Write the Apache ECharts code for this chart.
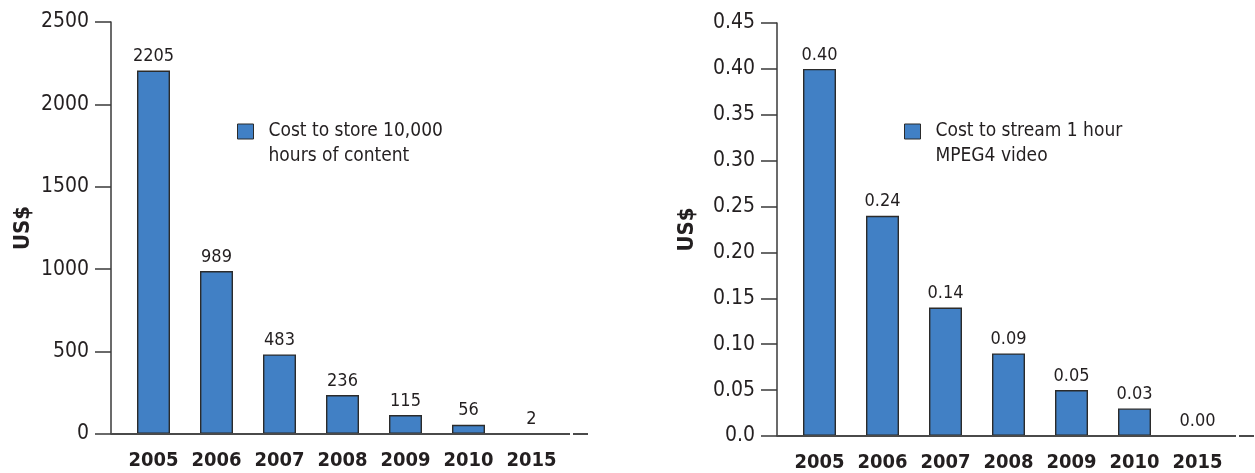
<!DOCTYPE html>
<html>
<head>
<meta charset="utf-8">
<script src="https://cdn.jsdelivr.net/npm/echarts@6/dist/echarts.min.js"></script>
<style>
  html, body { margin: 0; padding: 0; background: #ffffff; }
  #chart { width: 1255px; height: 473px; }
</style>
</head>
<body>
<div id="chart"></div>
<script>
// Year categories shared by both panels
const years = ['2005', '2006', '2007', '2008', '2009', '2010', '2015'];

// Left panel: cost to store 10,000 hours of content (US$)
const storageCost = [2205, 989, 483, 236, 115, 56, 2];
const storageTicks = ['0', '500', '1000', '1500', '2000', '2500'];
const storageName = 'Cost to store 10,000\nhours of content';

// Right panel: cost to stream 1 hour of MPEG4 video (US$)
const streamCost = [0.40, 0.24, 0.14, 0.09, 0.05, 0.03, 0.00];
const streamTicks = ['0.0', '0.05', '0.10', '0.15', '0.20', '0.25', '0.30', '0.35', '0.40', '0.45'];
const streamName = 'Cost to stream 1 hour\nMPEG4 video';

const FONT = "'DejaVu Sans Condensed', 'Liberation Sans Narrow', sans-serif";
const INK = '#231f20';
const AXIS = '#3a3a3a';
const BAR = '#4180c5';

const panels = [
  { left: 122, top: 22, width: 441, height: 412, yOffset: 11, nameGap: 77 },
  { left: 788, top: 23, width: 441, height: 413, yOffset: 11, nameGap: 79 }
];
const TICK_LEN = 16;

const chart = echarts.init(document.getElementById('chart'), null, { renderer: 'canvas' });

function yAxisFor(i, max, interval, ticks) {
  return {
    type: 'value',
    gridIndex: i,
    min: 0,
    max: max,
    interval: interval,
    offset: panels[i].yOffset,
    name: 'US$',
    nameLocation: 'middle',
    nameGap: panels[i].nameGap,
    nameRotate: 90,
    nameTextStyle: { fontFamily: FONT, fontWeight: 'bold', fontSize: 22, color: INK },
    axisLine: { show: true, lineStyle: { color: AXIS, width: 1.5 } },
    axisTick: { show: true, inside: false, length: TICK_LEN, lineStyle: { color: AXIS, width: 1.5 } },
    axisLabel: {
      margin: 22,
      fontFamily: FONT,
      fontSize: 21,
      color: INK,
      formatter: (v, idx) => ticks[idx]
    },
    splitLine: { show: false }
  };
}

function xAxisFor(i) {
  return {
    type: 'category',
    gridIndex: i,
    data: years,
    boundaryGap: true,
    axisLine: { show: false },
    axisTick: { show: false },
    axisLabel: {
      margin: 17,
      fontFamily: FONT,
      fontWeight: 'bold',
      fontSize: 20,
      color: INK,
      interval: 0
    }
  };
}

function barSeries(i, name, data, fmt) {
  return {
    type: 'bar',
    name: name,
    xAxisIndex: i,
    yAxisIndex: i,
    data: data,
    barWidth: 33,
    itemStyle: { color: BAR, borderColor: '#2b2b2b', borderWidth: 1.4 },
    label: {
      show: true,
      position: 'top',
      distance: 5,
      fontFamily: FONT,
      fontSize: 18,
      color: INK,
      formatter: p => fmt(p.value)
    },
    emphasis: { disabled: true }
  };
}

// The blank leading line keeps the first text line level with the swatch
function legendFor(name, left) {
  return {
    data: [name],
    left: left,
    top: 94,
    padding: 0,
    orient: 'vertical',
    icon: 'rect',
    itemWidth: 16,
    itemHeight: 15,
    selectedMode: false,
    itemStyle: { color: BAR, borderColor: '#2b2b2b', borderWidth: 1 },
    formatter: n => ' \n' + n,
    textStyle: {
      fontFamily: FONT,
      fontSize: 19,
      color: INK,
      lineHeight: 25,
      padding: [0, 0, 0, 10]
    }
  };
}

chart.setOption({
  animation: false,
  backgroundColor: '#ffffff',
  grid: panels.map(p => ({ left: p.left, top: p.top, width: p.width, height: p.height, containLabel: false })),
  xAxis: [xAxisFor(0), xAxisFor(1)],
  yAxis: [
    yAxisFor(0, 2500, 500, storageTicks),
    yAxisFor(1, 0.45, 0.05, streamTicks)
  ],
  legend: [legendFor(storageName, 237), legendFor(streamName, 904)],
  series: [
    barSeries(0, storageName, storageCost, v => String(v)),
    barSeries(1, streamName, streamCost, v => v.toFixed(2))
  ]
});

// Baselines: run from the zero tick across the panel, followed by a short detached stub.
// Drawn above the bars so near-zero bars sit flush with the axis.
const baseline = [];
panels.forEach((p, i) => {
  const y0 = chart.convertToPixel({ yAxisIndex: i }, 0);
  const axisX = p.left - p.yOffset;
  const end = p.left + p.width + 7;
  const style = { stroke: '#4a4a4a', lineWidth: 2 };
  baseline.push({ type: 'line', shape: { x1: axisX, y1: y0, x2: end, y2: y0 }, style: style, silent: true, z: 10 });
  baseline.push({ type: 'line', shape: { x1: end + 3, y1: y0, x2: end + 18, y2: y0 }, style: style, silent: true, z: 10 });
});
chart.setOption({ graphic: baseline });
</script>
</body>
</html>
